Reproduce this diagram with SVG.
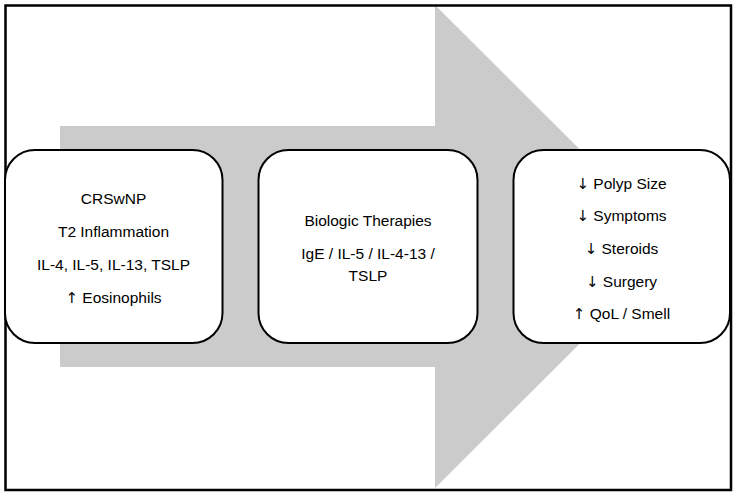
<svg xmlns="http://www.w3.org/2000/svg" width="741" height="496" viewBox="0 0 741 496">
<style>
.box{fill:#fff;stroke:#000;stroke-width:2}
.t{font-family:"Liberation Sans","DejaVu Sans",sans-serif;font-size:15.5px;fill:#000;text-anchor:middle}
.ar{font-family:"DejaVu Sans",sans-serif;font-size:15px}
</style>
<rect x="0" y="0" width="741" height="496" fill="#fff"/>
<g id="arrow-bg">
<polygon points="60,126 435,126 435,5 677,246.5 435,488 435,367 60,367" fill="#cbcbcb"/>
</g>
<rect x="5.5" y="5.5" width="725.5" height="484.5" fill="none" stroke="#000" stroke-width="2.5"/>
<g id="connectors"></g>
<g id="node-crswnp">
<rect class="box" x="5" y="150" width="217.5" height="193" rx="30" ry="30"/>
<text class="t" x="113.5" y="203.5">CRSwNP</text>
<text class="t" x="113.5" y="236.5">T2 Inflammation</text>
<text class="t" x="113.5" y="270">IL-4, IL-5, IL-13, TSLP</text>
<text class="t" x="113.5" y="302.5"><tspan class="ar">↑</tspan> Eosinophils</text>
</g>
<g id="node-biologics">
<rect class="box" x="258.5" y="150" width="219" height="193" rx="30" ry="30"/>
<text class="t" x="368" y="226">Biologic Therapies</text>
<text class="t" x="368" y="258.5">IgE / IL-5 / IL-4-13 /</text>
<text class="t" x="368" y="280.5">TSLP</text>
</g>
<g id="node-outcomes">
<rect class="box" x="513.5" y="150" width="216.5" height="193" rx="30" ry="30"/>
<text class="t" x="621.5" y="188.5"><tspan class="ar">↓</tspan> Polyp Size</text>
<text class="t" x="621.5" y="221"><tspan class="ar">↓</tspan> Symptoms</text>
<text class="t" x="621.5" y="254"><tspan class="ar">↓</tspan> Steroids</text>
<text class="t" x="621.5" y="286.5"><tspan class="ar">↓</tspan> Surgery</text>
<text class="t" x="621.5" y="318.5"><tspan class="ar">↑</tspan> QoL / Smell</text>
</g>
</svg>
